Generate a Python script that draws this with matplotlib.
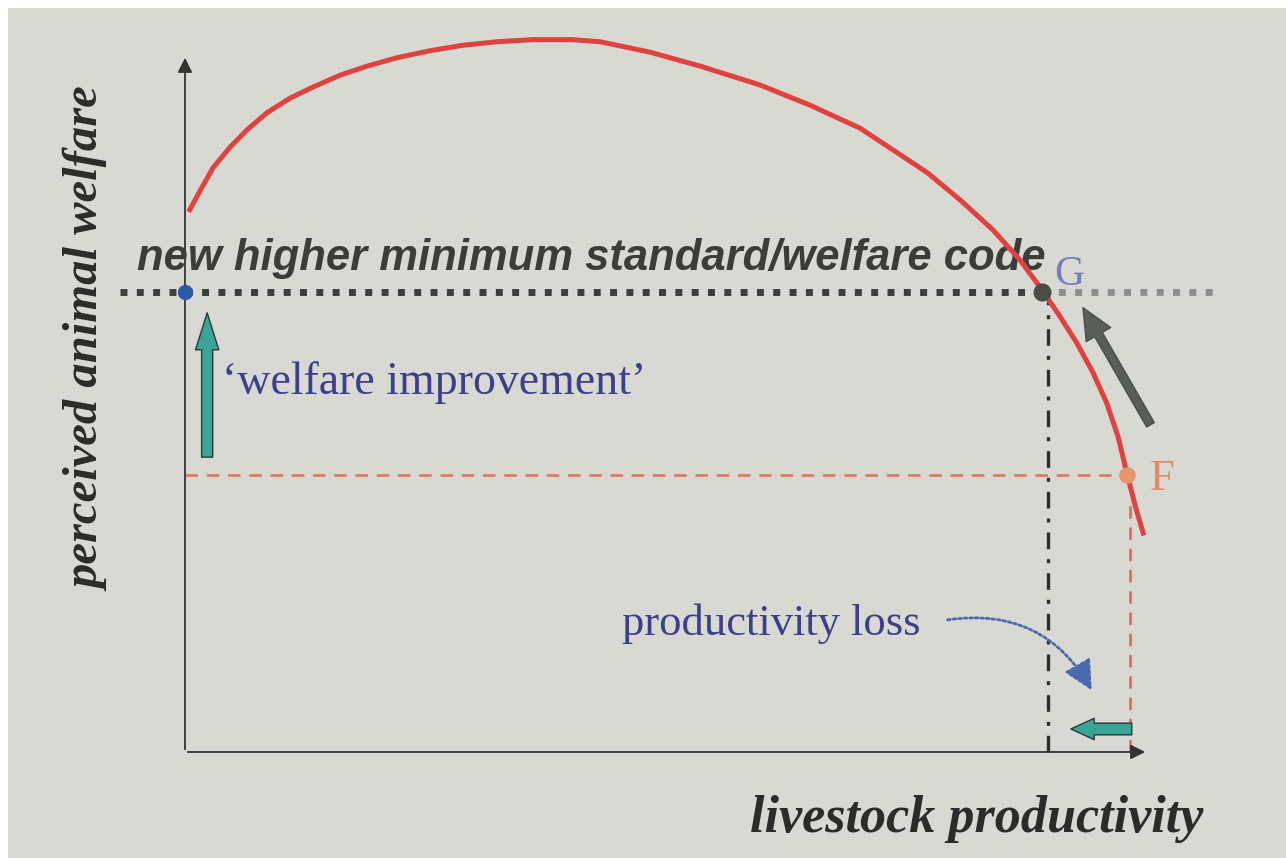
import matplotlib
matplotlib.use("Agg")
import matplotlib.pyplot as plt

# frontier curve (productivity vs perceived welfare)
curve_x = [0.05, 0.16, 0.29, 0.47, 0.64, 0.85, 1.09, 1.33, 1.61, 1.89, 2.20, 2.54,
           2.89, 3.24, 3.61, 4.02, 4.31, 4.83, 5.35, 5.97, 6.49, 7.01, 7.35, 7.71,
           8.05, 8.39, 8.67, 8.90, 9.09, 9.26, 9.43, 9.57, 9.69, 9.78, 9.87, 9.95]
curve_y = [7.78, 8.06, 8.38, 8.68, 8.92, 9.17, 9.38, 9.54, 9.71, 9.84, 9.96, 10.06,
           10.14, 10.19, 10.22, 10.22, 10.19, 10.04, 9.84, 9.57, 9.28, 8.95, 8.64, 8.31,
           7.92, 7.49, 7.06, 6.63, 6.24, 5.87, 5.44, 5.01, 4.52, 4.00, 3.52, 3.14]

# key points
new_standard = 6.6          # welfare level of the new code
old_welfare = 3.98          # welfare at F
G_x = 8.90
F_x = 9.78
loss_x = 8.96               # productivity at the new standard
old_x = 9.81                # productivity at F

bg = "#d9d9d3"
fig = plt.figure(figsize=(12.86, 8.58), dpi=100, facecolor="white")
ax = fig.add_axes([8 / 1286, 0, 1 - 8 / 1286, 1 - 8 / 858])
ax.set_facecolor(bg)
ax.set_xlim(-1.838, 11.433)
ax.set_ylim(-1.521, 10.674)
for s in ax.spines.values():
    s.set_visible(False)
ax.set_xticks([])
ax.set_yticks([])

# axes with arrows
ax.annotate("", xy=(10.0, 0), xytext=(0, 0),
            arrowprops=dict(arrowstyle="-|>", color="#333333", lw=1.3, mutation_scale=22))
ax.annotate("", xy=(0, 10.0), xytext=(0, 0),
            arrowprops=dict(arrowstyle="-|>", color="#333333", lw=1.3, mutation_scale=22))

# old level (F) dashed red lines
ax.plot([0, F_x], [old_welfare, old_welfare], color="#e8704f", lw=1.8, dashes=(5, 3.5))
ax.plot([old_x, old_x], [0, 3.55], color="#e8604f", lw=1.8, dashes=(5, 3.5))

# new minimum standard, square dotted
ax.plot([-0.675, G_x], [new_standard, new_standard], color="#3c403c", lw=5, dashes=(1, 1.35))
ax.plot([G_x, 10.7], [new_standard, new_standard], color="#8c908c", lw=5, dashes=(1, 1.35))

# dash-dot drop from G
ax.plot([loss_x, loss_x], [0, new_standard], color="#2e302e", lw=2.4, dashes=(5, 3, 1.2, 3))

# red frontier
ax.plot(curve_x, curve_y, color="#e0423f", lw=3.6, solid_joinstyle="round", zorder=4)

# points
ax.plot([0], [new_standard], "o", ms=10, color="#2d5aa8", zorder=5)
ax.plot([G_x], [new_standard], "o", ms=12, color="#4a4d45", zorder=5)
ax.plot([F_x], [old_welfare], "o", ms=11, color="#e8956c", zorder=5)

ax.text(9.03, 6.70, "G", family="Liberation Serif", fontsize=30, color="#7380b8", zorder=3)
ax.text(10.02, 3.76, "F", family="Liberation Serif", fontsize=32, color="#e48a64")

# welfare improvement arrow
ax.annotate("", xy=(0.23, 6.34), xytext=(0.23, 4.19),
            arrowprops=dict(arrowstyle="simple,head_width=1.2,head_length=1.9,tail_width=0.57",
                            fc="#3aa597", ec="#2a3a38", lw=1.0, mutation_scale=14))
ax.text(0.38, 5.3, "\u2018welfare improvement\u2019", family="Liberation Serif",
        fontsize=33, color="#3b3f8c", va="center")

# grey movement arrow F -> G
ax.annotate("", xy=(9.31, 6.41), xytext=(10.04, 4.66),
            arrowprops=dict(arrowstyle="simple,head_width=1.45,head_length=1.6,tail_width=0.45",
                            fc="#5a5e5a", ec="#4a4e4a", lw=1.0, mutation_scale=14))

# productivity loss
ax.text(4.54, 1.68, "productivity loss", family="Liberation Serif", fontsize=32,
        color="#3b3f8c")
ax.annotate("", xy=(9.43, 0.85), xytext=(7.89, 1.89),
            arrowprops=dict(arrowstyle="-|>,head_width=0.45,head_length=0.9",
                            connectionstyle="arc3,rad=-0.35", color="#4a6ab0",
                            lw=2.0, ls=(0, (1, 1)), mutation_scale=20))
ax.annotate("", xy=(9.17, 0.33), xytext=(9.86, 0.33),
            arrowprops=dict(arrowstyle="simple,head_width=1.1,head_length=1.2,tail_width=0.6",
                            fc="#3aa597", ec="#2a3a38", lw=1.0, mutation_scale=14))

# title-like label
ax.text(-0.50, 6.92, "new higher minimum standard/welfare code", family="Liberation Sans",
        fontsize=31.4, fontweight="bold", style="italic", color="#3a3d3a")

# axis labels
ax.text(-1.0, 5.91, "perceived animal welfare", family="Liberation Serif", fontsize=35,
        fontweight="bold", style="italic", color="#2b2b2b", rotation=90,
        ha="center", va="center")
ax.text(8.22, -1.15, "livestock productivity", family="Liberation Serif", fontsize=37.5,
        fontweight="bold", style="italic", color="#2b2b2b", ha="center")

fig.savefig("out.png", dpi=100, facecolor=fig.get_facecolor())
